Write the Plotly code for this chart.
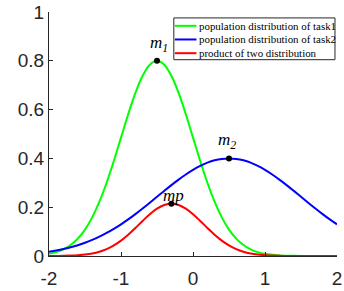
import plotly.graph_objects as go

x_vals = [round(-2 + 0.1 * i, 1) for i in range(41)]

task1 = [0.0089, 0.0159, 0.0272, 0.0449, 0.0711, 0.1083, 0.1583, 0.2224, 0.3003, 0.3894,
         0.4852, 0.5809, 0.6682, 0.7385, 0.7842, 0.8000, 0.7842, 0.7385, 0.6682, 0.5809,
         0.4852, 0.3894, 0.3003, 0.2224, 0.1583, 0.1083, 0.0711, 0.0449, 0.0272, 0.0159,
         0.0089, 0.0048, 0.0025, 0.0012, 0.0006, 0.0003, 0.0001, 0.0001, 0.0, 0.0, 0.0]

task2 = [0.0176, 0.0225, 0.0284, 0.0356, 0.0441, 0.0541, 0.0658, 0.0792, 0.0943, 0.1112,
         0.1299, 0.1501, 0.1718, 0.1947, 0.2184, 0.2426, 0.2668, 0.2905, 0.3131, 0.3341,
         0.3530, 0.3692, 0.3824, 0.3921, 0.3980, 0.4000, 0.3980, 0.3921, 0.3824, 0.3692,
         0.3530, 0.3341, 0.3131, 0.2905, 0.2668, 0.2426, 0.2184, 0.1947, 0.1718, 0.1501,
         0.1299]

product = [0.0002, 0.0004, 0.0008, 0.0016, 0.0031, 0.0059, 0.0104, 0.0176, 0.0283, 0.0433,
           0.0630, 0.0872, 0.1148, 0.1438, 0.1713, 0.1941, 0.2092, 0.2145, 0.2092, 0.1941,
           0.1713, 0.1438, 0.1148, 0.0872, 0.0630, 0.0433, 0.0283, 0.0176, 0.0104, 0.0059,
           0.0031, 0.0016, 0.0008, 0.0004, 0.0002, 0.0001, 0.0, 0.0, 0.0, 0.0, 0.0]

series_names = ["population distribution of task1",
                "population distribution of task2",
                "product of two distribution"]
series_colors = ["#00FF00", "#0000FF", "#FF0000"]

peak_x = [-0.5, 0.5, -0.3]
peak_y = [0.8, 0.4, 0.2145]
peak_labels = ["<i>m<sub>1</sub></i>", "<i>m<sub>2</sub></i>", "<i>mp</i>"]
label_x = [-0.47, 0.47, -0.27]
label_y = [0.87, 0.47, 0.25]

x_ticks = [-2, -1, 0, 1, 2]
x_ticklabels = ["-2", "-1", "0", "1", "2"]
y_ticks = [0, 0.2, 0.4, 0.6, 0.8, 1]
y_ticklabels = ["0", "0.2", "0.4", "0.6", "0.8", "1"]

fig = go.Figure()
for ys, name, col in zip([task1, task2, product], series_names, series_colors):
    fig.add_trace(go.Scatter(x=x_vals, y=ys, mode="lines", name=name,
                             line=dict(color=col, width=2, shape="spline"),
                             showlegend=False, hoverinfo="skip"))

fig.add_trace(go.Scatter(x=peak_x, y=peak_y, mode="markers",
                         marker=dict(color="black", size=6),
                         showlegend=False, hoverinfo="skip"))

for tx, ty, tt in zip(label_x, label_y, peak_labels):
    fig.add_annotation(x=tx, y=ty, xref="x", yref="y", text=tt, showarrow=False,
                       font=dict(family="Liberation Serif", size=17, color="black"))

# custom legend box
lx0, lx1, ly0, ly1 = 0.4334, 0.993, 0.8045, 0.9757
fig.add_shape(type="rect", xref="paper", yref="paper", x0=lx0, x1=lx1, y0=ly0, y1=ly1,
              line=dict(color="#262626", width=1), fillcolor="white", layer="above")
row_y = [0.9433, 0.8874, 0.8312]
for ry, name, col in zip(row_y, series_names, series_colors):
    fig.add_shape(type="line", xref="paper", yref="paper", x0=0.437, x1=0.5119, y0=ry, y1=ry,
                  line=dict(color=col, width=2), layer="above")
    fig.add_annotation(x=0.514, y=ry, xref="paper", yref="paper", text=name, showarrow=False,
                       xanchor="left", yanchor="middle",
                       font=dict(family="Liberation Serif", size=10.9, color="black"))

axis_col = "#262626"
fig.update_layout(
    width=344, height=291,
    margin=dict(l=49, r=2, t=11, b=33),
    paper_bgcolor="white", plot_bgcolor="white",
    font=dict(family="Liberation Sans, Arial", size=19, color=axis_col),
)
fig.update_xaxes(range=[-2, 2], tickvals=x_ticks, ticktext=x_ticklabels,
                 showgrid=False, zeroline=False, showline=True, linecolor=axis_col,
                 linewidth=1, ticks="inside", ticklen=4, tickcolor=axis_col,
                 ticklabeloverflow="allow", ticklabelstandoff=5,
                 tickfont=dict(size=19, color=axis_col))
fig.update_yaxes(range=[0, 1], tickvals=y_ticks, ticktext=y_ticklabels,
                 showgrid=False, zeroline=False, showline=True, linecolor=axis_col,
                 linewidth=1, ticks="inside", ticklen=4, tickcolor=axis_col,
                 ticklabeloverflow="allow",
                 tickfont=dict(size=19, color=axis_col))

fig.write_html("out.html", config={"displayModeBar": False},
               post_script="document.body.style.margin='0';")
